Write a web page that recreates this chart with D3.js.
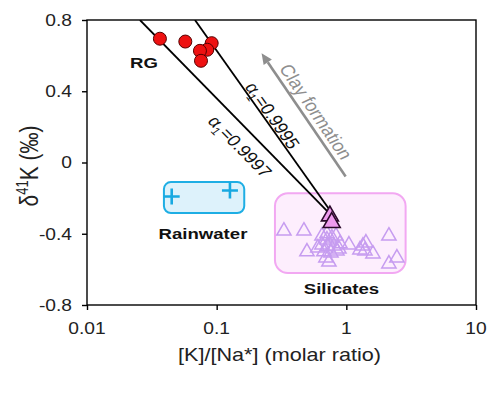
<!DOCTYPE html>
<html><head><meta charset="utf-8">
<script src="https://cdn.jsdelivr.net/npm/d3@7"></script>
<style>body{margin:0;background:#fff}svg{display:block}text{font-family:"Liberation Sans",Arial,sans-serif}</style>
</head><body><svg id="c" width="498" height="393"></svg>
<script>
// ---- data ----
const xTicks = [0.01, 0.1, 1, 10];
const xTickLabels = ["0.01", "0.1", "1", "10"];
const yTicks = [-0.8, -0.4, 0, 0.4, 0.8];
const yTickLabels = ["-0.8", "-0.4", "0", "0.4", "0.8"];

// RG (red circles)
const rgX = [0.0365, 0.0573, 0.0915, 0.0846, 0.0743, 0.0757];
const rgY = [0.695, 0.679, 0.670, 0.633, 0.627, 0.571];

// Rainwater (blue crosses)
const rainX = [0.045, 0.1266];
const rainY = [-0.191, -0.157];

// Silicates (open triangles)
const silX = [0.330, 0.471, 0.497, 0.649, 0.709, 0.774, 0.832, 0.649, 0.721, 0.802,
              0.672, 0.761, 0.846, 0.696, 0.734, 0.877, 1.047, 1.273, 1.343, 1.416,
              1.391, 1.604, 2.13, 2.13, 2.455, 0.709, 0.893, 0.603];
const silY = [-0.384, -0.384, -0.501, -0.412, -0.434, -0.423, -0.412, -0.462, -0.473, -0.468,
              -0.501, -0.507, -0.496, -0.535, -0.558, -0.485, -0.462, -0.490, -0.468, -0.451,
              -0.496, -0.513, -0.412, -0.569, -0.535, -0.400, -0.456, -0.479];
// Silicate end-members (filled triangles)
const silFilledX = [0.747, 0.771];
const silFilledY = [-0.300, -0.337];

// Rayleigh fractionation lines
const fracLabels = ["0.9997", "0.9995"];
const fracX0 = [0.0256, 0.068], fracY0 = [0.8, 0.8];
const fracX1 = [0.721, 0.761], fracY1 = [-0.277, -0.277];
const fracLabelX = [0.1512, 0.2693], fracLabelY = [0.090, 0.263];

// Group boxes
const rainBoxX = [0.0392, 0.1632], rainBoxY = [-0.284, -0.110];
const silBoxX = [0.2815, 2.865], silBoxY = [-0.621, -0.172];

// Clay formation arrow (tail -> head)
const clayX = [0.988, 0.222], clayY = [-0.079, 0.614];
const clayLabelX = 0.583, clayLabelY = 0.285;

// group labels
const groupLabels = ["RG", "Rainwater", "Silicates"];
const groupLabelX = [0.0275, 0.0784, 0.917];
const groupLabelY = [0.563, -0.398, -0.709];

// ---- layout ----
const L = 87, R = 476, T = 20, B = 305;
const SX = 1.2; // horizontal text stretch of reference
const svg = d3.select("#c");
const x = d3.scaleLog().domain([0.01, 10]).range([L, R]);
const y = d3.scaleLinear().domain([-0.8, 0.8]).range([B, T]);

function rotFor(a) { const t = a * Math.PI / 180; return Math.atan2(SX * Math.sin(t), Math.cos(t)) * 180 / Math.PI; }
function txt(px, py, angle, size, weight, fill, anchor) {
  return svg.append("text")
    .attr("transform", `translate(${px},${py}) scale(${SX},1) rotate(${rotFor(angle)})`)
    .attr("font-size", size).attr("font-weight", weight).attr("fill", fill)
    .attr("text-anchor", anchor || "middle");
}
function screenAngle(x0, y0, x1, y1) {
  return Math.atan2(y(y1) - y(y0), x(x1) - x(x0)) * 180 / Math.PI;
}

svg.append("defs").append("clipPath").attr("id", "clip")
  .append("rect").attr("x", L).attr("y", T).attr("width", R - L).attr("height", B - T);

// boxes
svg.append("rect")
  .attr("x", x(rainBoxX[0])).attr("y", y(rainBoxY[1]))
  .attr("width", x(rainBoxX[1]) - x(rainBoxX[0])).attr("height", y(rainBoxY[0]) - y(rainBoxY[1]))
  .attr("rx", 7).attr("fill", "#ddf2fb").attr("stroke", "#1eaee4").attr("stroke-width", 2);
svg.append("rect")
  .attr("x", x(silBoxX[0])).attr("y", y(silBoxY[1]))
  .attr("width", x(silBoxX[1]) - x(silBoxX[0])).attr("height", y(silBoxY[0]) - y(silBoxY[1]))
  .attr("rx", 13).attr("fill", "#fdeefd").attr("stroke", "#f2a8f2").attr("stroke-width", 2);

// frame + ticks
svg.append("rect").attr("x", L).attr("y", T).attr("width", R - L).attr("height", B - T)
  .attr("fill", "none").attr("stroke", "#000").attr("stroke-width", 1.4);
svg.append("g").attr("transform", `translate(0,${B})`)
  .call(d3.axisBottom(x).tickValues(xTicks).tickFormat("").tickSize(5).tickSizeOuter(0))
  .call(g => { g.select(".domain").remove(); g.selectAll("line").attr("stroke-width", 1.4); });
svg.append("g").attr("transform", `translate(${L},0)`)
  .call(d3.axisLeft(y).tickValues(yTicks).tickFormat("").tickSize(5).tickSizeOuter(0))
  .call(g => { g.select(".domain").remove(); g.selectAll("line").attr("stroke-width", 1.4); });

xTicks.forEach((v, i) => txt(x(v), 334, 0, 16, "normal", "#222").text(xTickLabels[i]));
yTicks.forEach((v, i) => txt(72, y(v) + 5.8, 0, 16, "normal", "#222", "end").text(yTickLabels[i]));

// axis titles
txt((L + R) / 2 - 2, 361, 0, 18, "normal", "#222").text("[K]/[Na*]  (molar ratio)");
const yt = txt(38, 166, -90, 21, "normal", "#222");
yt.append("tspan").text("δ");
yt.append("tspan").attr("font-size", 13).attr("dy", -8).text("41");
yt.append("tspan").attr("dy", 8).text("K (‰)");

// fractionation lines
const plot = svg.append("g").attr("clip-path", "url(#clip)");
fracLabels.forEach((lab, i) => {
  plot.append("line")
    .attr("x1", x(fracX0[i])).attr("y1", y(fracY0[i]))
    .attr("x2", x(fracX1[i])).attr("y2", y(fracY1[i]))
    .attr("stroke", "#000").attr("stroke-width", 1.8);
  const a = screenAngle(fracX0[i], fracY0[i], fracX1[i], fracY1[i]);
  const t = txt(x(fracLabelX[i]), y(fracLabelY[i]), a, 16, "normal", "#111");
  t.attr("dy", "0.35em");
  t.append("tspan").text("α");
  t.append("tspan").attr("font-size", 11).attr("dy", 4).text("1");
  t.append("tspan").attr("dy", -4).text("=" + lab);
});

// clay formation arrow
{
  const x0 = x(clayX[0]), y0 = y(clayY[0]), x1 = x(clayX[1]), y1 = y(clayY[1]);
  const ang = Math.atan2(y1 - y0, x1 - x0);
  const hl = 11, hw = 5;
  const bx = x1 - hl * Math.cos(ang), by = y1 - hl * Math.sin(ang);
  svg.append("line").attr("x1", x0).attr("y1", y0).attr("x2", bx).attr("y2", by)
    .attr("stroke", "#8e8e8e").attr("stroke-width", 2.6);
  svg.append("path")
    .attr("d", `M${x1},${y1}L${bx + hw * Math.sin(ang)},${by - hw * Math.cos(ang)}L${bx - hw * Math.sin(ang)},${by + hw * Math.cos(ang)}Z`)
    .attr("fill", "#8e8e8e");
  const a = Math.atan2(y0 - y1, x0 - x1) * 180 / Math.PI;
  txt(x(clayLabelX), y(clayLabelY), a, 16.5, "normal", "#8e8e8e").attr("dy", "0.35em").text("Clay formation");
}

// RG circles
svg.selectAll(".rg").data(rgX).join("circle")
  .attr("cx", d => x(d)).attr("cy", (d, i) => y(rgY[i])).attr("r", 6.5)
  .attr("fill", "#ee1111").attr("stroke", "#550000").attr("stroke-width", 1);

// silicate open triangles
const triOpen = d3.symbol().type(d3.symbolTriangle).size(88);
svg.selectAll(".sil").data(silX).join("path")
  .attr("transform", (d, i) => `translate(${x(d)},${y(silY[i])})`)
  .attr("d", triOpen).attr("fill", "none").attr("stroke", "#c69cf0").attr("stroke-width", 1.5);

// filled triangles
const triFill = d3.symbol().type(d3.symbolTriangle).size(125);
svg.selectAll(".silf").data(silFilledX).join("path")
  .attr("transform", (d, i) => `translate(${x(d)},${y(silFilledY[i])})`)
  .attr("d", triFill).attr("fill", "#ee9bee").attr("stroke", "#2a0a2a").attr("stroke-width", 1.6);

// rainwater crosses
rainX.forEach((v, i) => {
  const cx = x(v), cy = y(rainY[i]), s = 8;
  svg.append("path").attr("d", `M${cx - s},${cy}H${cx + s}M${cx},${cy - s}V${cy + s}`)
    .attr("stroke", "#17a9e1").attr("stroke-width", 2.6).attr("fill", "none");
});

// group labels
groupLabels.forEach((g, i) => {
  txt(x(groupLabelX[i]), y(groupLabelY[i]), 0, 15.5, "bold", "#111").attr("dy", "0.36em").text(g);
});
</script></body></html>
